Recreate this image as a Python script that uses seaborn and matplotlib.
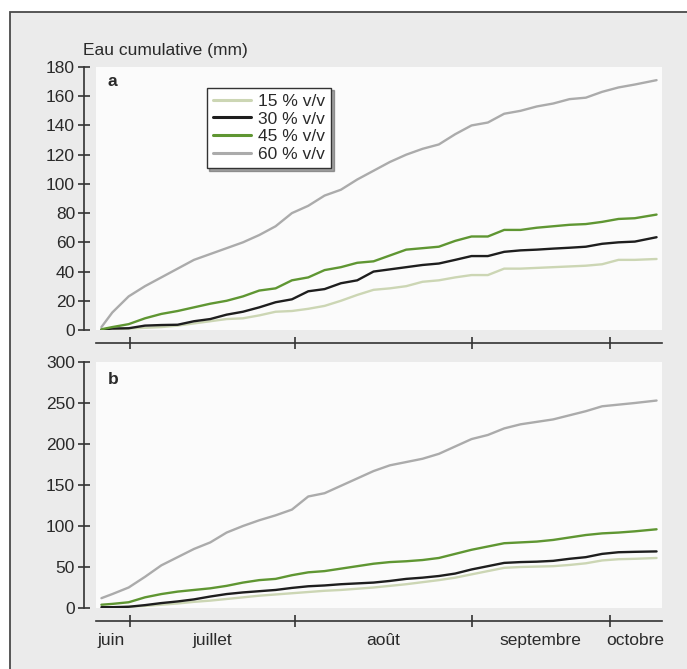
import matplotlib
matplotlib.use("Agg")
import matplotlib.pyplot as plt
from matplotlib.patches import Rectangle
import pandas as pd
import seaborn as sns

# jours depuis le début de la saison (axe horizontal)
DAYS = [1, 3, 6, 9, 12, 15, 18, 21, 24, 27, 30, 33, 36, 39, 42, 45, 48, 51,
        54, 57, 60, 63, 66, 69, 72, 75, 78, 81, 84, 87, 90, 93, 96, 99, 103]

SERIES = ["15 % v/v", "30 % v/v", "45 % v/v", "60 % v/v"]

# panneau a
A_15 = [0, 0.5, 1, 1.5, 2, 3, 4.5, 6, 7.5, 8, 10, 12.5, 13, 14.5, 16.5, 20, 24, 27.5,
        28.5, 30, 33, 34, 36, 37.6, 37.6, 42, 42, 42.5, 43, 43.5, 44, 45, 48, 48, 48.6]
A_30 = [0.3, 1, 1.2, 3, 3.4, 3.6, 6, 7.5, 10.5, 12.5, 15.5, 19, 21, 26.5, 28, 32, 34, 40,
        41.5, 43, 44.5, 45.5, 48, 50.6, 50.6, 53.5, 54.5, 55, 55.7, 56.3, 57, 59, 60, 60.5, 63.5]
A_45 = [0.5, 2, 4, 8, 11, 13, 15.5, 18, 20, 23, 27, 28.5, 34, 36, 41, 43, 46, 47,
        51, 55, 56, 57, 61, 64, 64, 68.5, 68.5, 70, 71, 72, 72.5, 74, 76, 76.5, 79]
A_60 = [2, 12, 23, 30, 36, 42, 48, 52, 56, 60, 65, 71, 80, 85, 92, 96, 103, 109,
        115, 120, 124, 127, 134, 140, 142, 148, 150, 153, 155, 158, 159, 163, 166, 168, 171]

# panneau b
B_15 = [0, 0.5, 1.5, 2.5, 4, 5.5, 7.5, 9, 11, 13, 15, 16.5, 18, 19.5, 21, 22, 23.5, 25,
        27, 29, 31.5, 34, 37, 41, 45, 49, 50, 50.5, 51, 52.5, 54.5, 58, 59.5, 60, 61]
B_30 = [1, 1, 1.5, 3.5, 6, 8, 10.5, 14, 17, 19, 20.5, 22, 24.5, 26.5, 27.5, 29, 30, 31,
        33, 35.5, 37, 39, 42, 47, 51, 55, 56, 56.5, 57.5, 60, 62, 66, 68, 68.5, 69]
B_45 = [4, 5, 7, 13, 17, 20, 22, 24, 27, 31, 34, 35.5, 40, 43.5, 45, 48, 51, 54,
        56, 57, 58.5, 61, 66, 71, 75, 79, 80, 81, 83, 86, 89, 91, 92, 93.5, 96]
B_60 = [12, 17, 25, 38, 52, 62, 72, 80, 92, 100, 107, 113, 120, 136, 140, 149, 158, 167,
        174, 178, 182, 188, 197, 206, 211, 219, 224, 227, 230, 235, 240, 246, 248, 250, 253]

MONTH_TICKS = [6.25, 36.6, 69.1, 94.4]
MONTH_LABELS = ["juin", "juillet", "août", "septembre", "octobre"]
MONTH_LABEL_POS = [2.8, 21.3, 52.7, 81.6, 99.0]

COLORS = {"15 % v/v": "#ccd6b4", "30 % v/v": "#1e1e1e",
          "45 % v/v": "#5f9632", "60 % v/v": "#ababab"}


def long_df(cols):
    rows = []
    for name, vals in zip(SERIES, cols):
        for d, v in zip(DAYS, vals):
            rows.append({"jour": d, "eau": v, "serie": name})
    return pd.DataFrame(rows)


sns.set_style("ticks")
plt.rcParams["font.family"] = ["Liberation Sans", "DejaVu Sans"]
plt.rcParams["text.color"] = "#2a2a2a"

W, H = 687, 669
fig = plt.figure(figsize=(W / 100, H / 100), dpi=100, facecolor="white")
fig.patches.append(Rectangle((10 / W, -0.02), 1.05, 1 - 12 / H + 0.02,
                             transform=fig.transFigure, facecolor="#ebebeb",
                             edgecolor="#4a4a4a", lw=1.3, zorder=-5))

ax_a = fig.add_axes([96 / W, (H - 330) / H, 566 / W, 263 / H])
ax_b = fig.add_axes([96 / W, (H - 608) / H, 566 / W, 246 / H])

panels = [(ax_a, [A_15, A_30, A_45, A_60], 180, 20, "a"),
          (ax_b, [B_15, B_30, B_45, B_60], 300, 50, "b")]

for ax, cols, ymax, step, tag in panels:
    sns.lineplot(data=long_df(cols), x="jour", y="eau", hue="serie",
                 palette=COLORS, linewidth=1.7, ax=ax, legend=(tag == "a"))
    ax.set_facecolor("#fbfbfb")
    ax.set_xlim(0, 104)
    ax.set_ylim(0, ymax)
    ax.set_yticks(range(0, ymax + 1, step))
    ax.set_xticks(MONTH_TICKS)
    ax.set_xticklabels([])
    ax.set_xlabel("")
    ax.set_ylabel("")
    for s in ("top", "right"):
        ax.spines[s].set_visible(False)
    ax.spines["left"].set_position(("outward", 8.6))
    ax.spines["left"].set_bounds(0, ymax)
    ax.spines["bottom"].set_position(("outward", 9))
    for s in ("left", "bottom"):
        ax.spines[s].set_color("#333333")
        ax.spines[s].set_linewidth(1.2)
    ax.tick_params(axis="both", which="major", direction="inout", length=9,
                   width=1.2, color="#333333", labelsize=12.5, labelcolor="#2a2a2a")
    ax.tick_params(axis="y", pad=2)
    ax.text(0.021, 0.945 if tag == "a" else 0.93, tag, transform=ax.transAxes,
            fontsize=12.5, fontweight="bold", ha="left", va="center")

ax_b.set_xticks(MONTH_LABEL_POS, minor=True)
ax_b.set_xticklabels(MONTH_LABELS, minor=True)
ax_b.tick_params(axis="x", which="minor", length=0, labelsize=12.5,
                 labelcolor="#2a2a2a", pad=9)

sns.move_legend(ax_a, "upper left", bbox_to_anchor=(0.18, 0.955), title=None,
                frameon=True, shadow=True, fancybox=False, fontsize=12.5,
                handlelength=2.2, handletextpad=0.4, borderpad=0.35,
                labelspacing=0.15, edgecolor="#333333", framealpha=1)
leg = ax_a.get_legend()
leg.get_frame().set_linewidth(1.0)
for line in leg.get_lines():
    line.set_linewidth(2.2)

fig.text(83 / W, 1 - 50 / H, "Eau cumulative (mm)", fontsize=12.5,
         ha="left", va="center")

fig.savefig("out.png", dpi=100)
